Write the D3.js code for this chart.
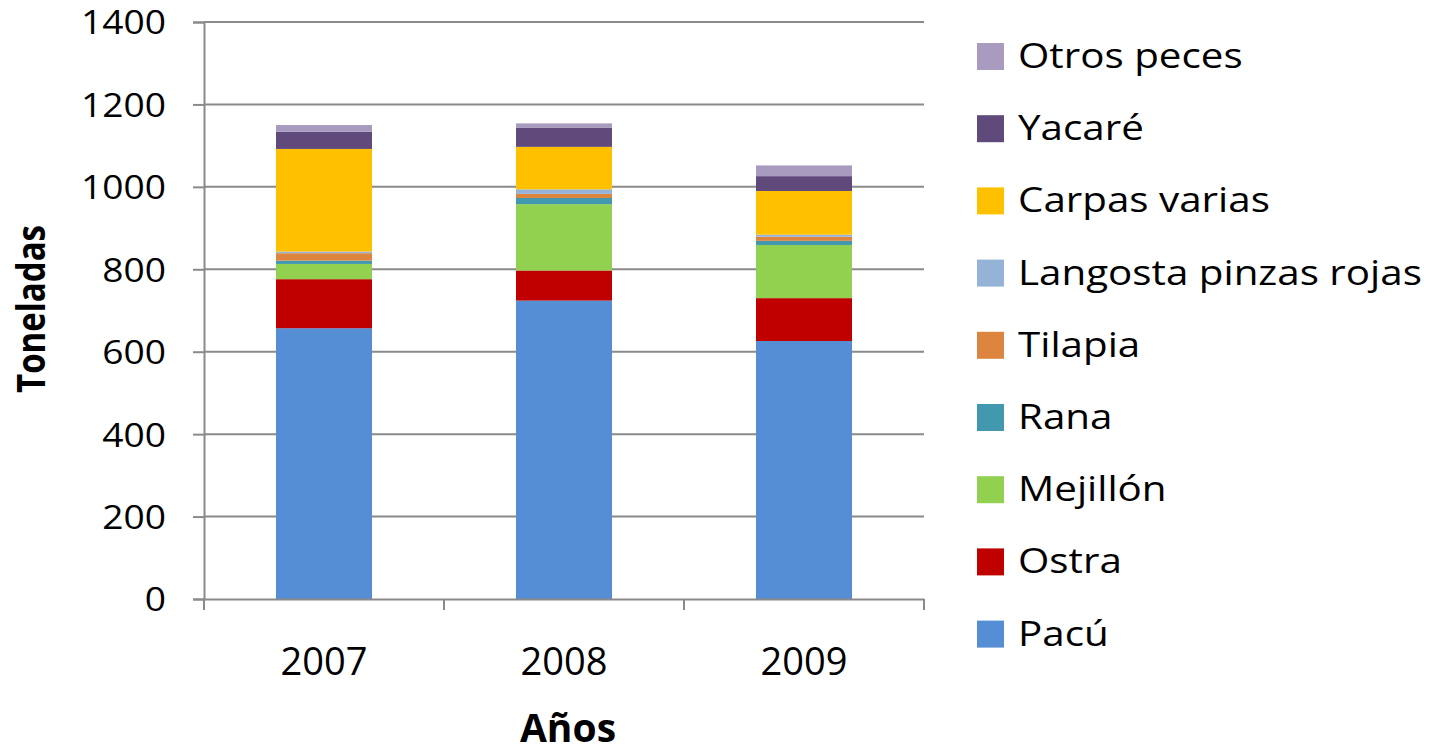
<!DOCTYPE html>
<html lang="es">
<head>
<meta charset="UTF-8" />
<title>Toneladas por año</title>
<script src="https://d3js.org/d3.v7.min.js"></script>
<style>
  body { margin: 0; background: #fff; }
  text { font-family: "Open Sans", sans-serif; fill: #000; }
</style>
</head>
<body>
<svg width="1435" height="755"></svg>
<script>
// data (toneladas)
const years = ['2007', '2008', '2009'];
const species = ['Pacú', 'Ostra', 'Mejillón', 'Rana', 'Tilapia', 'Langosta pinzas rojas', 'Carpas varias', 'Yacaré', 'Otros peces'];
const pacu      = [657, 724, 626];
const ostra     = [119, 73, 104];
const mejillon  = [37, 161, 129];
const rana      = [8, 15, 10];
const tilapia   = [18, 10, 10];
const langosta  = [4, 11, 5];
const carpas    = [249, 103, 106];
const yacare    = [42, 46, 36];
const otros     = [16, 11, 26];
const yTicks = [0, 200, 400, 600, 800, 1000, 1200, 1400];
const colors = ['#558ED5', '#C00000', '#92D050', '#4198AF', '#DD843E', '#95B3D7', '#FFC000', '#604A7B', '#A99BBF'];

const series = [pacu, ostra, mejillon, rana, tilapia, langosta, carpas, yacare, otros];
const rows = years.map((yr, i) => {
  const r = { year: yr };
  species.forEach((s, j) => r[s] = series[j][i]);
  return r;
});

const svg = d3.select('svg');
const mLeft = 204, mRight = 924, mTop = 22, mBottom = 599;

const x = d3.scaleBand().domain(years).range([mLeft, mRight]).paddingInner(0.6).paddingOuter(0.3);
const xb = d3.scaleBand().domain(years).range([mLeft, mRight]);
const y = d3.scaleLinear().domain([0, 1400]).range([mBottom, mTop]);

// gridlines
svg.append('g').selectAll('line').data(yTicks.filter(d => d > 0)).enter().append('line')
  .attr('x1', mLeft).attr('x2', mRight)
  .attr('y1', d => y(d)).attr('y2', d => y(d))
  .style('stroke', '#8a8a8a').style('stroke-width', 2);

// bars
const stacked = d3.stack().keys(species)(rows);
svg.append('g').selectAll('g').data(stacked).enter().append('g')
  .style('fill', (d, i) => colors[i])
  .selectAll('rect').data(d => d).enter().append('rect')
  .attr('x', d => x(d.data.year))
  .attr('width', x.bandwidth())
  .attr('y', d => y(d[1]))
  .attr('height', d => y(d[0]) - y(d[1]));

// y axis
const yAxis = svg.append('g').attr('transform', `translate(${mLeft},0)`)
  .call(d3.axisLeft(y).tickValues(yTicks).tickFormat(d3.format('d')).tickSize(11).tickPadding(27));
yAxis.select('.domain').style('stroke', '#8a8a8a').style('stroke-width', 2);
yAxis.selectAll('.tick line').style('stroke', '#8a8a8a').style('stroke-width', 2);
yAxis.selectAll('text').style('font-size', '33px').attr('dy', '0.36em');

// x axis
const xAxis = svg.append('g').attr('transform', `translate(0,${mBottom})`)
  .call(d3.axisBottom(xb).tickSize(0));
xAxis.select('.domain').style('stroke', '#8a8a8a').style('stroke-width', 2);
xAxis.selectAll('.tick text').style('font-size', '38px').attr('y', 76).attr('dy', 0);
xAxis.append('g').selectAll('line').data(years.concat(['end'])).enter().append('line')
  .attr('x1', (d, i) => i < years.length ? xb(d) : mRight)
  .attr('x2', (d, i) => i < years.length ? xb(d) : mRight)
  .attr('y1', 0).attr('y2', 11)
  .style('stroke', '#8a8a8a').style('stroke-width', 2);

// stretch labels horizontally to match the original rendering
function stretch(sel, target) {
  const w = sel.node().getComputedTextLength();
  return target / w;
}
const tickScale = stretch(yAxis.selectAll('text').filter(d => d === 1400), 85);
yAxis.selectAll('text').each(function () {
  const t = d3.select(this);
  const xx = +t.attr('x');
  t.attr('transform', `translate(${xx},0) scale(${tickScale},1) translate(${-xx},0)`);
});

// axis titles
const yTitle = svg.append('text')
  .attr('text-anchor', 'middle')
  .style('font-size', '40px').style('font-weight', 'bold')
  .text('Toneladas');
const yTitleScale = stretch(yTitle, 168);
yTitle.attr('transform', `translate(45,309) rotate(-90) scale(${yTitleScale},1)`);
svg.append('text')
  .attr('x', (mLeft + mRight) / 2 + 4).attr('y', 742)
  .attr('text-anchor', 'middle')
  .style('font-size', '39px').style('font-weight', 'bold')
  .text('Años');

// legend (top entry = last series)
const legend = svg.append('g');
const items = species.map((s, i) => ({ name: s, color: colors[i] })).reverse();
const item = legend.selectAll('g').data(items).enter().append('g')
  .attr('transform', (d, i) => `translate(977,${56 + i * 72.2})`);
item.append('rect').attr('x', 0).attr('y', -13).attr('width', 27).attr('height', 27)
  .style('fill', d => d.color);
item.append('text').attr('x', 0).attr('y', 12)
  .style('font-size', '35px')
  .text(d => d.name);
const legScale = stretch(item.selectAll('text').filter(d => d.name === 'Langosta pinzas rojas'), 404);
item.selectAll('text').attr('transform', `translate(41,0) scale(${legScale},1)`);
</script>
</body>
</html>
